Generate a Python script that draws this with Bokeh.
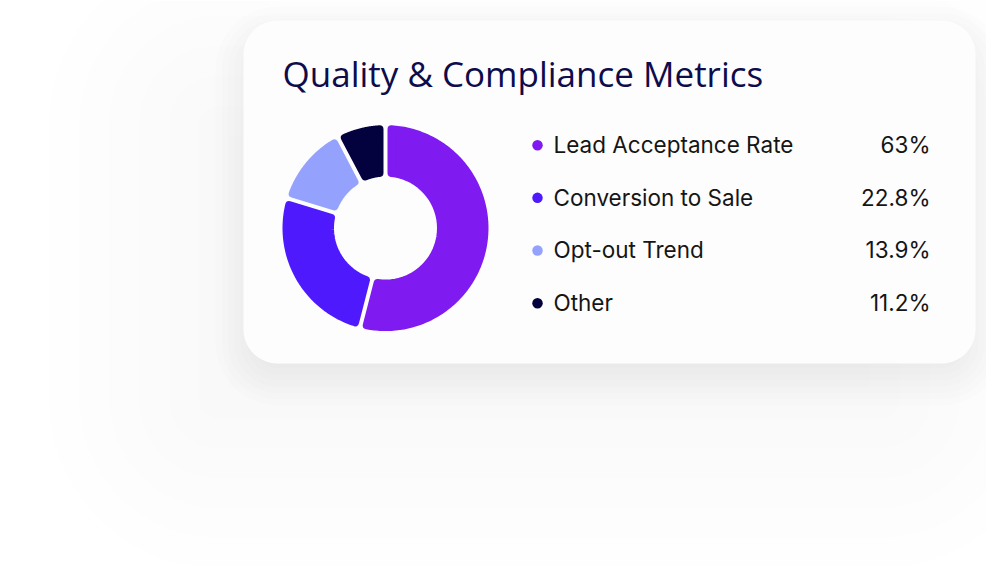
import numpy as np
from bokeh.plotting import figure
from bokeh.models import Range1d
from bokeh.embed import file_html
from bokeh.resources import INLINE
from bokeh.core.properties import value

# ---------------- data ----------------
title_text = "Quality & Compliance Metrics"
categories = ["Lead Acceptance Rate", "Conversion to Sale", "Opt-out Trend", "Other"]
metric_values = [63, 22.8, 13.9, 11.2]          # values printed in the legend (%)
slice_shares = [54.0, 25.7, 12.6, 7.7]          # share of the ring each slice takes (%)
colors = ["#7f1bf1", "#4f19fd", "#94a2fd", "#03023f"]

# ---------------- layout constants (reference pixel space, y down) ----------------
PAGE_H = 570
W, H = 986, 566
CARD = (243, 20, 975, 363)
CARD_R = 34
CX, CY = 385, 227.6
R_OUT, R_IN = 103.0, 51.5
GAP = 4.0
CORNER = 4.0
LEG_DOT_X, LEG_TXT_X, LEG_VAL_X = 537, 553, 930
LEG_Y0, LEG_DY = 144.7, 52.67
BASE_SHIFT = 0.385   # em: correction between requested and drawn alphabetic baseline


def Y(y):
    return PAGE_H - np.asarray(y, dtype=float)


def rrect(x0, y0, x1, y1, r, n=14):
    r = max(0.5, min(r, (x1 - x0) / 2, (y1 - y0) / 2))
    xs, ys = [], []
    corners = [(x1 - r, y0 + r, -np.pi / 2, 0), (x1 - r, y1 - r, 0, np.pi / 2),
               (x0 + r, y1 - r, np.pi / 2, np.pi), (x0 + r, y0 + r, np.pi, 1.5 * np.pi)]
    for cx, cy, a0, a1 in corners:
        t = np.linspace(a0, a1, n)
        xs.extend(cx + r * np.cos(t))
        ys.extend(cy + r * np.sin(t))
    return list(xs), list(Y(ys))


p = figure(width=W, height=H, x_range=Range1d(0, W), y_range=Range1d(PAGE_H - H, PAGE_H),
           output_backend="svg", toolbar_location=None, min_border=0,
           x_axis_location=None, y_axis_location=None)
p.grid.visible = False
p.outline_line_color = None
p.background_fill_color = "white"
p.border_fill_color = "white"


# ---------------- soft shadow (two stacked layers) ----------------
def shadow(dx, dy, spread, total, n):
    alpha = 1 - (1 - total) ** (1.0 / n)
    sx, sy = [], []
    x0, y0, x1, y1 = CARD
    for e in np.linspace(-spread, spread, n):
        xs, ys = rrect(x0 + dx - e, y0 + dy - e, x1 + dx + e, y1 + dy + e, CARD_R + e)
        sx.append(xs)
        sy.append(ys)
    p.patches(sx, sy, fill_color="black", fill_alpha=alpha, line_color=None)


shadow(-60, 70, 135, 0.055, 10)
shadow(0, 14, 28, 0.07, 10)

# ---------------- card ----------------
cx_, cy_ = rrect(*CARD, CARD_R)
p.patch(cx_, cy_, fill_color="#fdfdfd", line_color=None)

# ---------------- donut ----------------
shares = np.asarray(slice_shares, dtype=float)
edges = np.concatenate([[0.0], np.cumsum(shares) / shares.sum() * 2 * np.pi])
d = GAP / 2 + CORNER
ro, ri = R_OUT - CORNER, R_IN + CORNER
wx, wy = [], []
for a0, a1 in zip(edges[:-1], edges[1:]):
    to = np.linspace(a0 + np.arcsin(d / ro), a1 - np.arcsin(d / ro), 80)
    ti = np.linspace(a1 - np.arcsin(d / ri), a0 + np.arcsin(d / ri), 40)
    xs = np.concatenate([CX + ro * np.sin(to), CX + ri * np.sin(ti)])
    ys = np.concatenate([CY - ro * np.cos(to), CY - ri * np.cos(ti)])
    wx.append(list(xs))
    wy.append(list(Y(ys)))
p.patches(wx, wy, fill_color=colors, line_color=colors, line_width=2 * CORNER, line_join="round")

# ---------------- title ----------------
TS = 35
p.text(x=[282], y=list(Y([86.7 - BASE_SHIFT * TS])), text=[title_text], text_font=value("Open Sans"),
       text_font_size=f"{TS}px", text_color="#0e0c4c", text_baseline="alphabetic")

# ---------------- legend ----------------
LS = 22.5
rows = LEG_Y0 + LEG_DY * np.arange(len(categories))
base = rows + 8.0 - BASE_SHIFT * LS
p.scatter(x=[LEG_DOT_X] * len(categories), y=list(Y(rows)), size=10.5, color=colors, line_color=None)
p.text(x=[LEG_TXT_X] * len(categories), y=list(Y(base)), text=categories,
       text_font=value("Inter"), text_font_size=f"{LS}px", text_color="#151515",
       text_baseline="alphabetic")
p.text(x=[LEG_VAL_X] * len(categories), y=list(Y(base)),
       text=[f"{v:g}%" for v in metric_values],
       text_font=value("Inter"), text_font_size=f"{LS}px", text_color="#151515",
       text_align="right", text_baseline="alphabetic")

open("out.html", "w").write(file_html(p, INLINE))
